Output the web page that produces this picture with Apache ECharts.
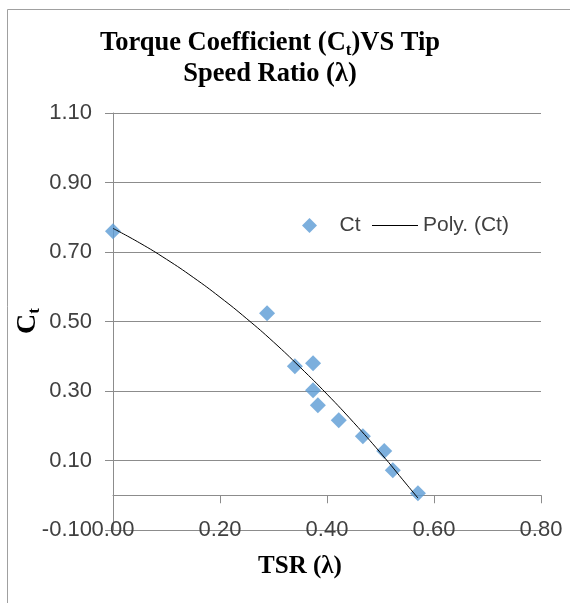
<!DOCTYPE html>
<html>
<head>
<meta charset="utf-8">
<script src="https://cdn.jsdelivr.net/npm/echarts@6/dist/echarts.min.js"></script>
<style>
html,body{margin:0;padding:0;background:#fff;}
#chart{width:570px;height:603px;}
</style>
</head>
<body>
<div id="chart"></div>
<script>
// Measured points: Tip Speed Ratio (λ) vs Torque Coefficient (Ct)
var tsr = [0.000, 0.288, 0.340, 0.374, 0.374, 0.383, 0.422, 0.467, 0.507, 0.523, 0.570];
var ct  = [0.760, 0.524, 0.371, 0.380, 0.302, 0.259, 0.216, 0.170, 0.127, 0.072, 0.006];

// Poly. (Ct) trend line
var polyX = [0.00, 0.05, 0.10, 0.15, 0.20, 0.25, 0.30, 0.35, 0.40, 0.45, 0.50, 0.55, 0.57];
var polyY = [0.768, 0.726, 0.679, 0.627, 0.570, 0.508, 0.441, 0.368, 0.291, 0.209, 0.122, 0.029, -0.008];

// Axis settings
var yTicks = { min: -0.10, max: 1.10, interval: 0.20 };
var xTicks = { min: 0.00, max: 0.80, interval: 0.20 };

var gridColor = '#8c8c8c';
var textColor = '#404040';
var sans = '"Liberation Sans", Arial, sans-serif';
var serif = '"Liberation Serif", "Times New Roman", serif';

var chart = echarts.init(document.getElementById('chart'), null, { renderer: 'canvas' });

var option = {
  backgroundColor: '#ffffff',
  animation: false,
  title: {
    text: '{b|Torque Coefficient (C}{s|t}{b|)VS Tip}\n{b|Speed Ratio (λ)}',
    left: 265,
    textAlign: 'center',
    top: 23,
    textStyle: {
      rich: {
        b: { fontFamily: serif, fontWeight: 'bold', fontSize: 26.5, lineHeight: 31, color: '#000' },
        s: { fontFamily: serif, fontWeight: 'bold', fontSize: 17, lineHeight: 14, verticalAlign: 'bottom', color: '#000' }
      }
    }
  },
  grid: { left: 113, right: 29, top: 113, bottom: 73 },
  legend: [
    {
      data: [{ name: 'Ct', icon: 'diamond' }],
      left: 297, top: 210,
      itemWidth: 15, itemHeight: 15,
      formatter: '   {name}',
      textStyle: { fontFamily: sans, fontSize: 21, color: textColor }
    },
    {
      data: [{ name: 'Poly. (Ct)', icon: 'rect' }],
      left: 367, top: 210,
      itemWidth: 46, itemHeight: 1,
      textStyle: { fontFamily: sans, fontSize: 21, color: textColor }
    }
  ],
  xAxis: {
    type: 'value',
    min: xTicks.min, max: xTicks.max, interval: xTicks.interval,
    axisLine: { show: true, onZero: true, lineStyle: { color: gridColor, width: 1 } },
    axisTick: { show: true, length: 8, lineStyle: { color: gridColor } },
    splitLine: { show: false },
    axisLabel: {
      margin: -11,
      fontFamily: sans, fontSize: 22, color: textColor,
      formatter: function (v) { return v.toFixed(2); }
    }
  },
  yAxis: {
    type: 'value',
    min: yTicks.min, max: yTicks.max, interval: yTicks.interval,
    axisLine: { show: true, onZero: false, lineStyle: { color: gridColor, width: 1 } },
    axisTick: { show: true, length: 8, lineStyle: { color: gridColor } },
    splitLine: { show: true, lineStyle: { color: gridColor, width: 1 } },
    axisLabel: {
      margin: 21,
      fontFamily: sans, fontSize: 22, color: textColor,
      formatter: function (v) { return (Math.round(v * 100) / 100).toFixed(2); }
    }
  },
  series: [
    {
      name: 'Poly. (Ct)',
      type: 'line',
      data: polyX.map(function (x, i) { return [x, polyY[i]]; }),
      smooth: true,
      symbol: 'none',
      lineStyle: { color: '#000000', width: 1 },
      itemStyle: { color: '#000000' },
      z: 3
    },
    {
      name: 'Ct',
      type: 'scatter',
      data: tsr.map(function (x, i) { return [x, ct[i]]; }),
      symbol: 'diamond',
      symbolSize: 16,
      itemStyle: { color: '#5b9bd5' },
      z: 2
    }
  ],
  graphic: [
    {
      type: 'rect',
      shape: { x: 7.5, y: 9.5, width: 700, height: 700 },
      style: { fill: null, stroke: '#a0a0a0', lineWidth: 1 },
      silent: true
    },
    {
      type: 'text',
      x: 300, y: 567,
      style: {
        text: 'TSR (λ)',
        fontFamily: serif, fontWeight: 'bold', fontSize: 25,
        fill: '#000', textAlign: 'center', textVerticalAlign: 'middle'
      }
    },
    {
      type: 'text',
      x: 28, y: 321,
      rotation: Math.PI / 2,
      style: {
        text: '{c|C}{s|t}',
        textAlign: 'center', textVerticalAlign: 'middle',
        rich: {
          c: { fontFamily: serif, fontWeight: 'bold', fontSize: 28, lineHeight: 30, fill: '#000' },
          s: { fontFamily: serif, fontWeight: 'bold', fontSize: 17, lineHeight: 14, verticalAlign: 'bottom', fill: '#000' }
        }
      }
    }
  ]
};

chart.setOption(option);
</script>
</body>
</html>
